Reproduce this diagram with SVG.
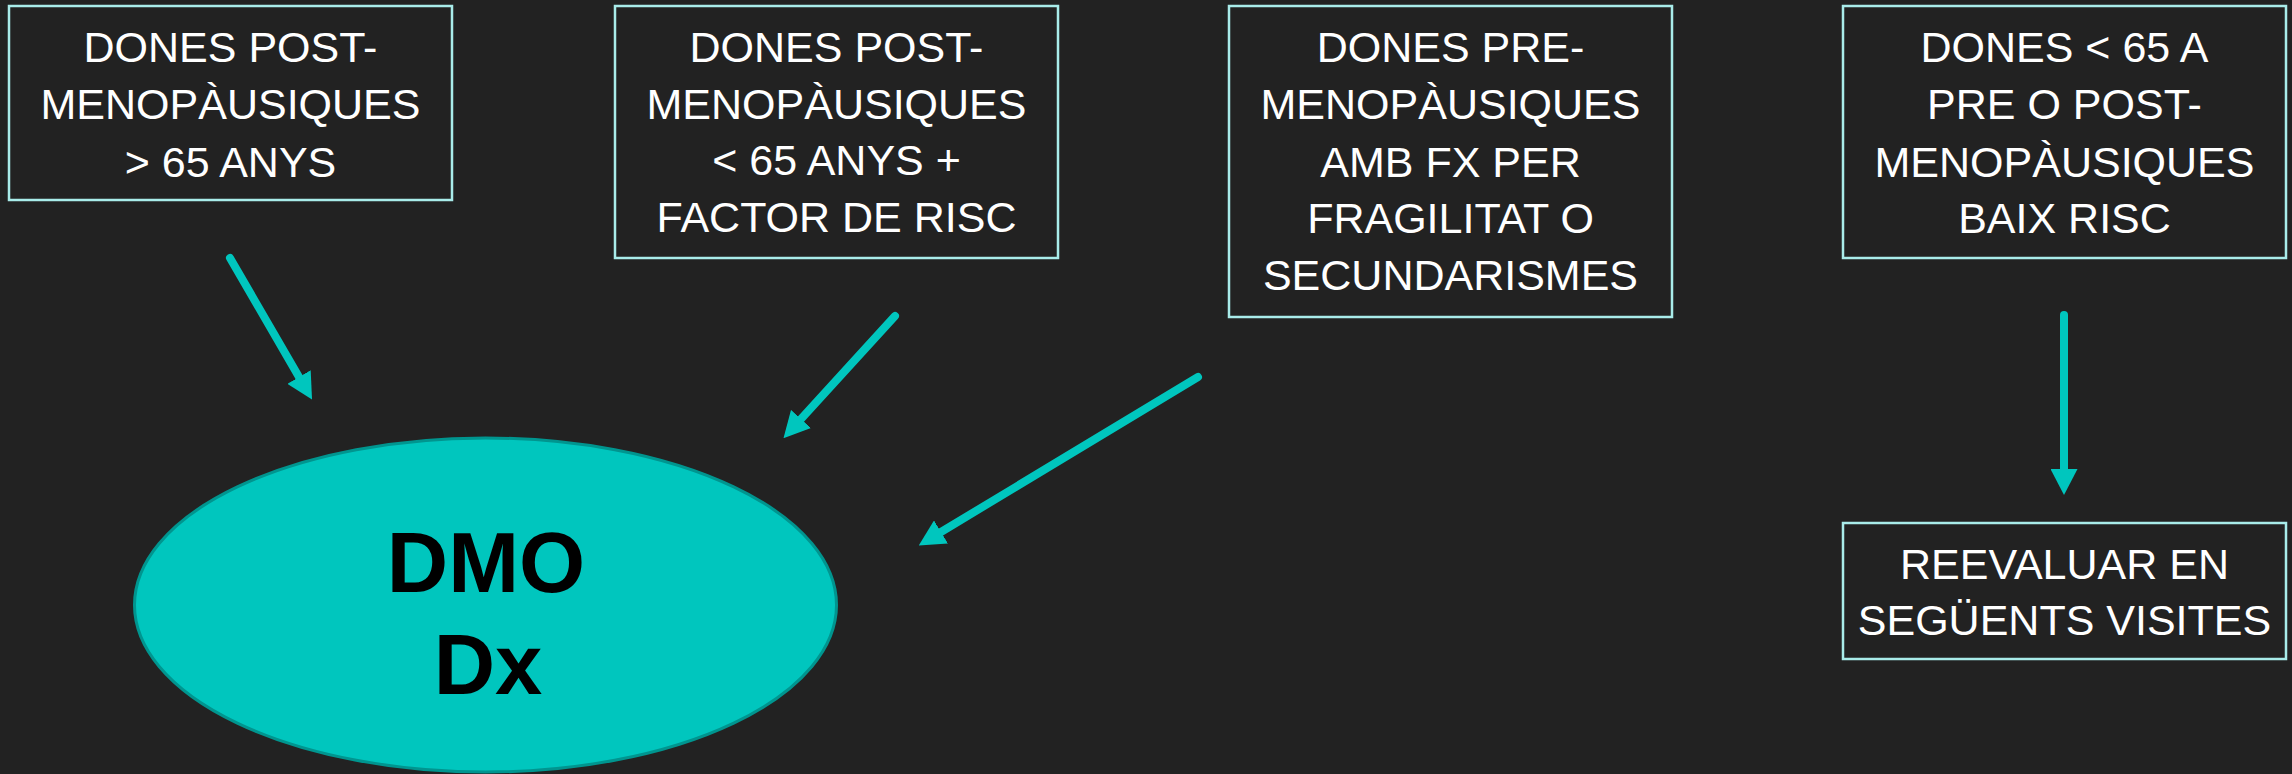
<svg xmlns="http://www.w3.org/2000/svg" width="2292" height="774" viewBox="0 0 2292 774">
<style>
.box rect{fill:#222222;stroke:#A9ECEA;stroke-width:2.5}
.box text{fill:#FFFFFF;font-family:"Liberation Sans",Arial,sans-serif;font-size:43px;text-anchor:middle}
.conn line{stroke:#00C6BE;stroke-width:8;stroke-linecap:round}
.big{fill:#000000;font-family:"Liberation Sans",Arial,sans-serif;font-weight:bold;font-size:85px;text-anchor:middle}
</style>
<defs>
<marker id="ah" markerUnits="userSpaceOnUse" markerWidth="26" markerHeight="27" refX="0" refY="13.5" orient="auto" viewBox="0 0 26 27">
<path d="M0,0 L26,13.5 L0,27 z" fill="#00C6BE"/>
</marker>
</defs>
<rect x="0" y="0" width="2292" height="774" fill="#222222"/>
<g id="conectors" class="conn">
<line x1="230" y1="258" x2="299" y2="377" marker-end="url(#ah)"/>
<line x1="895" y1="316" x2="801" y2="419" marker-end="url(#ah)"/>
<line x1="1198" y1="377" x2="941" y2="532" marker-end="url(#ah)"/>
<line x1="2064" y1="315" x2="2064" y2="469" marker-end="url(#ah)"/>
</g>
<g id="dmo">
<ellipse cx="485.5" cy="605" rx="351" ry="167" fill="#00C6BE" stroke="#00958F" stroke-width="3"/>
<text class="big" x="486" y="592">DMO</text>
<text class="big" x="488" y="694">Dx</text>
</g>
<g id="box1" class="box">
<rect x="9" y="6" width="443" height="194"/>
<text x="230.5" y="62">DONES POST-</text>
<text x="230.5" y="119">MENOPÀUSIQUES</text>
<text x="230.5" y="177">&gt; 65 ANYS</text>
</g>
<g id="box2" class="box">
<rect x="615" y="6" width="443" height="252"/>
<text x="836.5" y="62">DONES POST-</text>
<text x="836.5" y="119">MENOPÀUSIQUES</text>
<text x="836.5" y="175">&lt; 65 ANYS +</text>
<text x="836.5" y="232">FACTOR DE RISC</text>
</g>
<g id="box3" class="box">
<rect x="1229" y="6" width="443" height="311"/>
<text x="1450.5" y="62">DONES PRE-</text>
<text x="1450.5" y="119">MENOPÀUSIQUES</text>
<text x="1450.5" y="177">AMB FX PER</text>
<text x="1450.5" y="233">FRAGILITAT O</text>
<text x="1450.5" y="290">SECUNDARISMES</text>
</g>
<g id="box4" class="box">
<rect x="1843" y="6" width="443" height="252"/>
<text x="2064.5" y="62">DONES &lt; 65 A</text>
<text x="2064.5" y="119">PRE O POST-</text>
<text x="2064.5" y="177">MENOPÀUSIQUES</text>
<text x="2064.5" y="233">BAIX RISC</text>
</g>
<g id="box5" class="box">
<rect x="1843" y="523" width="443" height="136"/>
<text x="2064.5" y="579">REEVALUAR EN</text>
<text x="2064.5" y="635">SEGÜENTS VISITES</text>
</g>
</svg>
